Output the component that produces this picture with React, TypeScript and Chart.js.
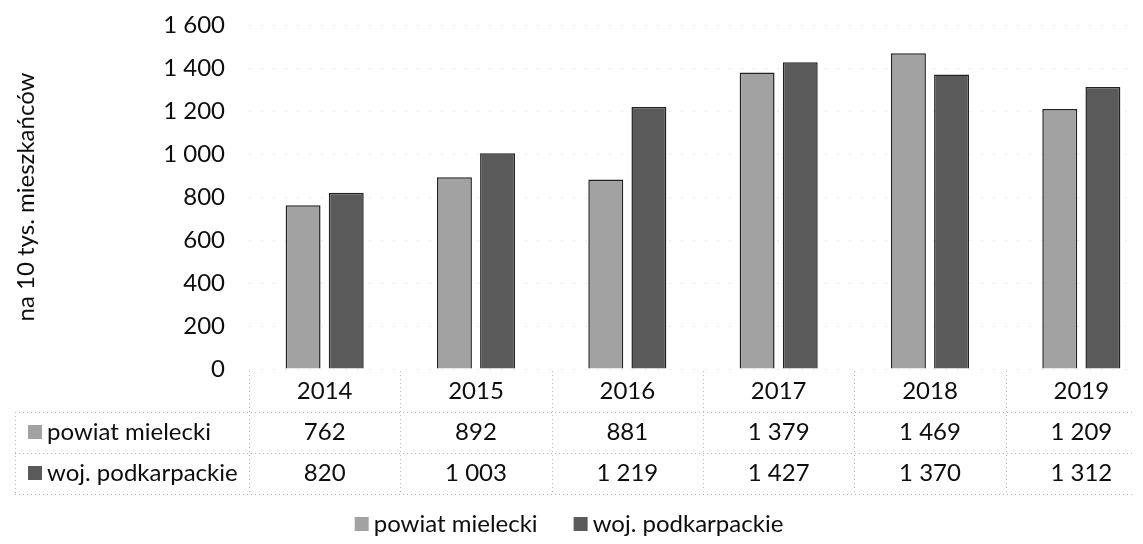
import React, { useEffect, useRef } from 'react';
import { Chart, registerables } from 'chart.js';

Chart.register(...registerables);

// ---- data ----
const categories = ['2014', '2015', '2016', '2017', '2018', '2019'];
const seriesNames = ['powiat mielecki', 'woj. podkarpackie'];
const powiatMielecki = [762, 892, 881, 1379, 1469, 1209];
const wojPodkarpackie = [820, 1003, 1219, 1427, 1370, 1312];
const yMin = 0;
const yMax = 1600;
const yStep = 200;
const yAxisTitle = 'na 10 tys. mieszkańców';

const FONT = 'Lato, "Open Sans", "Noto Sans", sans-serif';
const TEXT = '#0d0d0d';
const LIGHT = '#a2a2a2';
const DARK = '#5a5a5a';
const EDGE = '#222222';

const fmt = (v: number) => {
  const s = String(Math.round(v));
  return s.length > 3 ? s.slice(0, -3) + ' ' + s.slice(-3) : s;
};

const tablePlugin = {
  id: 'dataTable',
  afterDraw(chart: any) {
    const { ctx, chartArea } = chart;
    const x = chart.scales.x;
    const b = chartArea.bottom;
    const n = chart.data.labels.length;
    const colW = (x.right - x.left) / n;
    const rowTop = b + 43;
    const rowMid = b + 84;
    const rowBot = b + 125;
    const tableLeft = 7;
    ctx.save();
    ctx.strokeStyle = '#b8b8b8';
    ctx.lineWidth = 1;
    ctx.setLineDash([1, 3]);
    const hl = (y: number, x0: number, x1: number) => {
      ctx.beginPath();
      ctx.moveTo(x0, Math.round(y) + 0.5);
      ctx.lineTo(x1, Math.round(y) + 0.5);
      ctx.stroke();
    };
    const vl = (xx: number, y0: number, y1: number) => {
      ctx.beginPath();
      ctx.moveTo(Math.round(xx) + 0.5, y0);
      ctx.lineTo(Math.round(xx) + 0.5, y1);
      ctx.stroke();
    };
    hl(rowTop, tableLeft, x.right);
    hl(rowMid, tableLeft, x.right);
    hl(rowBot, tableLeft, x.right);
    for (let i = 0; i <= n; i++) vl(x.left + i * colW, b + 2, rowBot);
    vl(tableLeft, rowTop, rowBot);
    ctx.setLineDash([]);

    ctx.font = `24px ${FONT}`;
    ctx.textBaseline = 'middle';
    chart.data.datasets.forEach((ds: any, r: number) => {
      const cy = r === 0 ? b + 63 : b + 104;
      ctx.fillStyle = ds.backgroundColor;
      ctx.fillRect(20, cy - 7, 14, 14);
      ctx.fillStyle = TEXT;
      ctx.textAlign = 'left';
      ctx.fillText(ds.label, 39, cy);
      ctx.textAlign = 'center';
      ds.data.forEach((v: number, i: number) => {
        ctx.fillText(fmt(v), x.getPixelForTick(i), cy);
      });
    });

    // legend
    const ly = b + 155;
    const items = chart.data.datasets.map((ds: any) => ({
      label: ds.label,
      color: ds.backgroundColor,
      w: 14 + 5 + ctx.measureText(ds.label).width,
    }));
    const gap = 36;
    const total = items.reduce((s: number, it: any) => s + it.w, 0) + gap * (items.length - 1);
    let lx = 561 - total / 2;
    ctx.textAlign = 'left';
    items.forEach((it: any) => {
      ctx.fillStyle = it.color;
      ctx.fillRect(lx, ly - 7, 14, 14);
      ctx.fillStyle = TEXT;
      ctx.fillText(it.label, lx + 19, ly);
      lx += it.w + gap;
    });
    ctx.restore();
  },
};

export default function App() {
  const ref = useRef<HTMLCanvasElement>(null);
  useEffect(() => {
    if (!ref.current) return;
    const chart = new Chart(ref.current, {
      type: 'bar',
      data: {
        labels: categories,
        datasets: [
          {
            label: seriesNames[0],
            data: powiatMielecki,
            backgroundColor: LIGHT,
            borderColor: EDGE,
            borderWidth: 1.5,
            barPercentage: 0.81,
            categoryPercentage: 0.57,
          },
          {
            label: seriesNames[1],
            data: wojPodkarpackie,
            backgroundColor: DARK,
            borderColor: EDGE,
            borderWidth: 1.5,
            barPercentage: 0.81,
            categoryPercentage: 0.57,
          },
        ],
      },
      options: {
        animation: false,
        responsive: true,
        maintainAspectRatio: false,
        layout: { padding: { top: 17, left: 0, right: 11, bottom: 0 } },
        plugins: {
          legend: { display: false },
          tooltip: { enabled: false },
        },
        scales: {
          x: {
            grid: { display: false, drawTicks: false },
            border: { display: false },
            ticks: { color: TEXT, font: { family: FONT, size: 24 }, padding: 8 },
            afterFit: (s: any) => {
              s.height = 167;
            },
          },
          y: {
            min: yMin,
            max: yMax,
            grid: { color: '#ebebeb', drawTicks: true, tickLength: 24, tickColor: 'rgba(0,0,0,0)' },
            border: { display: false, dash: [2, 10] },
            ticks: {
              stepSize: yStep,
              color: TEXT,
              font: { family: FONT, size: 24 },
              padding: 0,
              callback: (v: any) => fmt(Number(v)),
            },
            title: {
              display: true,
              text: yAxisTitle,
              color: TEXT,
              font: { family: FONT, size: 24 },
              padding: { top: 4, bottom: 0 },
            },
            afterFit: (s: any) => {
              s.width = 241;
            },
          },
        },
      },
      plugins: [tablePlugin],
    });
    return () => chart.destroy();
  }, []);
  return (
    <div style={{ width: 1135, height: 528, overflow: 'hidden', position: 'relative' }}>
      <div style={{ width: 1160, height: 528, position: 'relative' }}>
        <canvas ref={ref} />
      </div>
    </div>
  );
}
